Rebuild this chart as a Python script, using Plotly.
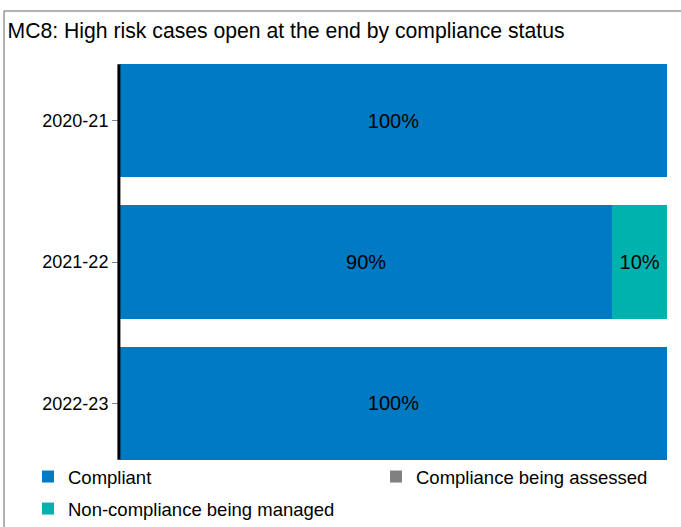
import plotly.graph_objects as go

years = ["2020-21", "2021-22", "2022-23"]
compliant = [100, 90, 100]
non_compliance = [0, 10, 0]
being_assessed = [0, 0, 0]

# name, values, colour, which legend box
series = [
    ("Compliant", compliant, "#007AC3", "legend"),
    ("Non-compliance being managed", non_compliance, "#00B2AD", "legend"),
    ("Compliance being assessed", being_assessed, "#808080", "legend2"),
]


def pct_labels(values):
    return ["{}%".format(v) if v else "" for v in values]


fig = go.Figure()
for name, values, color, legend in series:
    fig.add_trace(go.Bar(
        y=years,
        x=values,
        name=name,
        orientation="h",
        marker=dict(color=color, line=dict(width=0)),
        text=pct_labels(values),
        textposition="inside",
        insidetextanchor="middle",
        textfont=dict(color="black", size=20),
        legend=legend,
        legendgroup=name,
        hoverinfo="x+name"))

legend_style = dict(
    orientation="v",
    xref="container", xanchor="left",
    yref="container", y=1 - 458 / 527, yanchor="top",
    font=dict(size=18.5), traceorder="grouped",
    tracegroupgap=5, itemclick=False, bgcolor="rgba(0,0,0,0)")

fig.update_layout(
    width=681,
    height=527,
    barmode="stack",
    bargap=0.2,
    paper_bgcolor="white",
    plot_bgcolor="white",
    font=dict(family="Arial, Liberation Sans, sans-serif", color="black"),
    margin=dict(l=120, r=14, t=50, b=53, autoexpand=False),
    title=dict(
        text="MC8: High risk cases open at the end by compliance status",
        x=0.011, xanchor="left", y=0.942, yanchor="middle",
        font=dict(size=21.2, color="black")),
    xaxis=dict(range=[0, 100], visible=False),
    yaxis=dict(
        autorange="reversed",
        showline=False,
        ticks="outside", ticklen=7, tickcolor="#888888",
        tickfont=dict(size=18), showgrid=False),
    legend=dict(legend_style, x=28 / 681),
    legend2=dict(legend_style, x=376 / 681),
    shapes=[
        # outer frame, cut off at the right and bottom like the source image
        dict(type="line", xref="paper", yref="paper", x0=-0.212, x1=1.2,
             y0=1.092, y1=1.092, line=dict(color="#666666", width=1)),
        dict(type="line", xref="paper", yref="paper", x0=-0.212, x1=-0.212,
             y0=1.092, y1=-0.2, line=dict(color="#666666", width=1)),
        # category axis line only spans the bars
        dict(type="line", xref="paper", yref="y", x0=-0.002, x1=-0.002,
             y0=-0.4, y1=2.4, line=dict(color="black", width=3)),
    ],
)

# drop the default page margin so the figure sits at the window's corner
fig.write_html("out.html", config={"displayModeBar": False},
               post_script="document.body.style.margin='0';")
